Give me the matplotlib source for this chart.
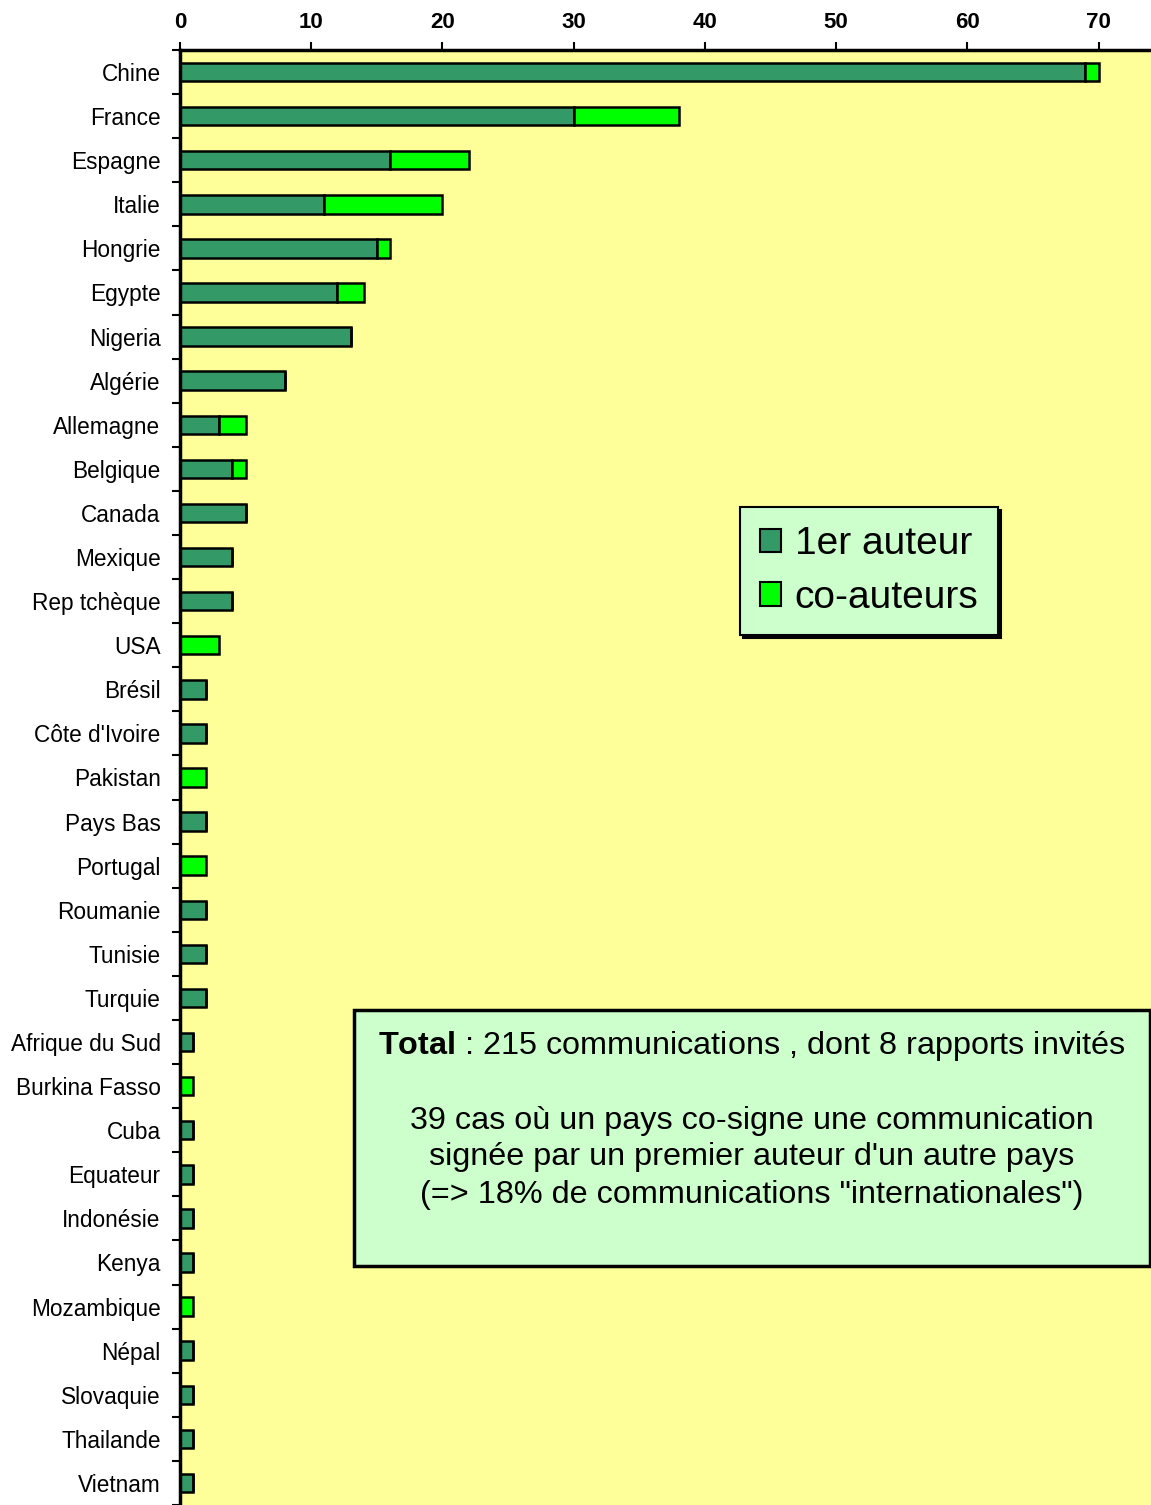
import numpy as np
import matplotlib
matplotlib.use("Agg")
import matplotlib.pyplot as plt
from matplotlib.patches import Rectangle, Patch

plt.rcParams['font.family'] = ['Liberation Sans', 'DejaVu Sans']
plt.rcParams['mathtext.fontset'] = 'custom'
plt.rcParams['mathtext.rm'] = 'Liberation Sans'
plt.rcParams['mathtext.bf'] = 'Liberation Sans:bold'

# données : nombre de communications par pays
pays = ["Chine", "France", "Espagne", "Italie", "Hongrie", "Egypte", "Nigeria",
        "Algérie", "Allemagne", "Belgique", "Canada", "Mexique", "Rep tchèque",
        "USA", "Brésil", "Côte d'Ivoire", "Pakistan", "Pays Bas", "Portugal",
        "Roumanie", "Tunisie", "Turquie", "Afrique du Sud", "Burkina Fasso",
        "Cuba", "Equateur", "Indonésie", "Kenya", "Mozambique", "Népal",
        "Slovaquie", "Thailande", "Vietnam"]
premier_auteur = [69, 30, 16, 11, 15, 12, 13, 8, 3, 4, 5, 4, 4, 0, 2, 2, 0, 2, 0,
                  2, 2, 2, 1, 0, 1, 1, 1, 1, 0, 1, 1, 1, 1]
co_auteurs = [1, 8, 6, 9, 1, 2, 0, 0, 2, 1, 0, 0, 0, 3, 0, 0, 2, 0, 2,
              0, 0, 0, 0, 1, 0, 0, 0, 0, 1, 0, 0, 0, 0]

vert_fonce = '#339966'
vert_clair = '#00FF00'
fond = '#FFFF99'
fond_boite = '#CCFFCC'

fig = plt.figure(figsize=(11.51, 15.05), dpi=100)
ax = fig.add_axes([180/1151, 0, 1 - 180/1151, 1 - 50/1505])
ax.set_facecolor(fond)

y = np.arange(len(pays))
ax.barh(y, premier_auteur, height=0.42, color=vert_fonce, edgecolor='black', linewidth=1.8)
ax.barh(y, co_auteurs, left=premier_auteur, height=0.42, color=vert_clair,
        edgecolor='black', linewidth=1.8)

ax.set_ylim(len(pays) - 0.5, -0.5)
ax.set_xlim(0, 74)
ax.set_yticks(y)
ax.set_yticklabels(pays, fontsize=16.3)
ax.set_yticks(np.arange(len(pays) + 1) - 0.5, minor=True)
ax.tick_params(axis='y', which='major', length=0, pad=14)
ax.tick_params(axis='y', which='minor', length=6, width=1.5, direction='out')

ax.xaxis.tick_top()
ax.set_xticks(range(0, 71, 10))
ax.tick_params(axis='x', length=6, width=1.5, direction='out', labelsize=16, pad=6)
for lab in ax.get_xticklabels():
    lab.set_fontweight('bold')

for s in ['right', 'bottom']:
    ax.spines[s].set_visible(False)
for s in ['left', 'top']:
    ax.spines[s].set_linewidth(2.5)

# légende
poignees = [Patch(facecolor=vert_fonce, edgecolor='black', linewidth=1.5),
            Patch(facecolor=vert_clair, edgecolor='black', linewidth=1.5)]
leg = ax.legend(poignees, ["1er auteur", "co-auteurs"], loc='upper left',
                bbox_to_anchor=(0.577, 0.686), borderaxespad=0, fontsize=28,
                fancybox=False, shadow={'color': 'black', 'alpha': 1},
                handlelength=0.55, handleheight=0.55, handletextpad=0.35,
                labelspacing=0.45, borderpad=0.5, facecolor=fond_boite,
                edgecolor='black', framealpha=1)
leg.get_frame().set_linewidth(1.5)

# boîte de texte
fig.patches.append(Rectangle((354/1151, 1 - 1266/1505), (1150 - 354)/1151, (1266 - 1010)/1505,
                             transform=fig.transFigure, facecolor=fond_boite,
                             edgecolor='black', linewidth=2.5, zorder=5))
xc = (354 + 1150) / 2 / 1151
fig.text(xc, 1 - 1046/1505, r"$\mathbf{Total}$ : 215 communications , dont 8 rapports invités",
         ha='center', va='center', fontsize=23.3, zorder=6)
lignes = ["39 cas où un pays co-signe une communication",
          "signée par un premier auteur d'un autre pays",
          "(=> 18% de communications \"internationales\")"]
for ligne, ypix in zip(lignes, [1121, 1157, 1195]):
    fig.text(xc, 1 - ypix/1505, ligne, ha='center', va='center', fontsize=23.3, zorder=6)

fig.savefig("out.png", dpi=100, facecolor='white')
